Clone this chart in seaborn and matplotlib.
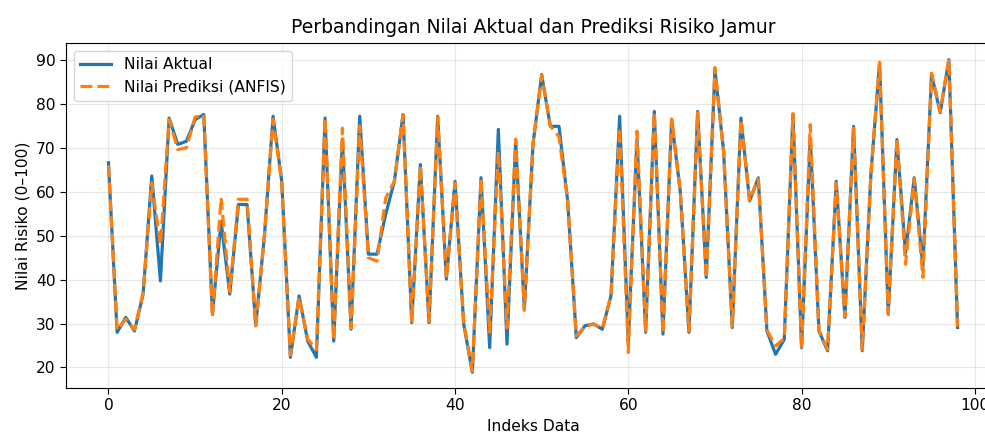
import matplotlib
matplotlib.use("Agg")
import matplotlib.pyplot as plt
import pandas as pd
import seaborn as sns

# nilai aktual (indeks 0..98)
aktual = [66.6, 28.0, 31.4, 28.3, 36.7, 63.6, 39.7, 76.8, 70.8, 71.5,
          76.4, 77.6, 32.1, 53.3, 36.7, 57.1, 57.1, 29.5, 50.0, 77.2,
          62.4, 22.3, 36.3, 26.0, 22.3, 76.8, 26.0, 72.0, 28.7, 77.2,
          45.8, 45.8, 54.9, 62.4, 77.6, 30.2, 66.2, 30.2, 77.2, 40.1,
          62.4, 29.9, 18.9, 63.2, 24.5, 74.2, 25.3, 71.5, 33.3, 70.8,
          86.7, 74.9, 74.9, 57.9, 26.8, 29.5, 29.9, 28.7, 36.3, 77.2,
          26.0, 72.0, 28.0, 78.3, 27.6, 76.4, 60.0, 28.0, 78.3, 40.5,
          87.8, 69.2, 29.1, 76.8, 57.9, 63.2, 28.3, 23.0, 26.4, 77.6,
          24.5, 72.3, 28.3, 23.8, 62.4, 31.4, 74.9, 23.8, 64.0, 89.3,
          32.1, 71.9, 46.0, 63.2, 43.0, 86.7, 78.0, 90.1, 29.1]

# nilai prediksi ANFIS
prediksi = [66.0, 28.5, 31.0, 28.6, 37.0, 62.0, 48.0, 76.5, 69.6, 70.0,
            77.0, 77.5, 31.5, 58.6, 37.2, 58.3, 58.3, 29.5, 50.0, 76.5,
            62.0, 22.8, 36.0, 26.5, 24.0, 76.8, 26.3, 74.5, 28.9, 75.0,
            45.0, 44.2, 58.6, 62.4, 77.6, 30.5, 66.0, 30.5, 77.0, 40.3,
            62.0, 30.2, 19.2, 63.0, 28.0, 69.2, 29.0, 72.0, 33.0, 71.0,
            86.5, 75.0, 72.5, 58.0, 27.2, 29.3, 29.9, 28.9, 36.5, 74.5,
            23.4, 73.8, 28.3, 78.0, 27.9, 76.6, 60.0, 28.3, 78.0, 40.3,
            88.3, 69.0, 29.4, 76.5, 58.0, 63.0, 28.5, 24.9, 26.6, 77.8,
            24.3, 75.3, 28.5, 24.1, 62.0, 31.6, 74.5, 24.1, 64.0, 89.5,
            32.3, 72.0, 43.5, 63.0, 40.5, 87.0, 78.2, 90.3, 29.3]

indeks = list(range(len(aktual)))

df = pd.DataFrame({"Indeks": indeks, "Aktual": aktual, "Prediksi": prediksi})

fs = 11.2
plt.rcParams.update({"xtick.labelsize": fs, "ytick.labelsize": fs,
                     "xtick.major.size": 4, "ytick.major.size": 4})

fig = plt.figure(figsize=(9.85, 4.34), dpi=100)
ax = fig.add_axes([66 / 985, 46 / 434, 934 / 985, 345 / 434])

sns.lineplot(data=df, x="Indeks", y="Aktual", ax=ax, color="#1f77b4",
             linewidth=2.3, label="Nilai Aktual")
sns.lineplot(data=df, x="Indeks", y="Prediksi", ax=ax, color="#ff7f0e",
             linewidth=2.3, linestyle="--", label="Nilai Prediksi (ANFIS)")

ax.set_title("Perbandingan Nilai Aktual dan Prediksi Risiko Jamur", fontsize=13.5, pad=7)
ax.set_xlabel("Indeks Data", fontsize=fs)
ax.set_ylabel("Nilai Risiko (0–100)", fontsize=fs)
ax.grid(True, alpha=0.3)
ax.legend(loc="upper left", fontsize=fs)

fig.savefig("out.png", dpi=100)
